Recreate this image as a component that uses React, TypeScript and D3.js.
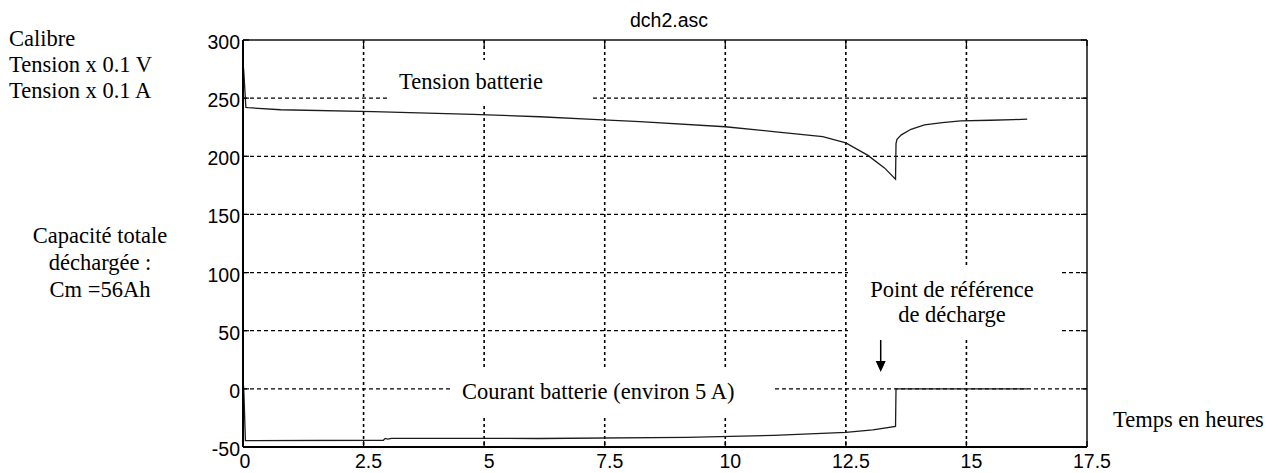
import React from "react";
import * as d3 from "d3";

// Tension batterie (x0.1 V) : [temps h, valeur]
const tensionTime = [0, 0.01, 0.02, 0.06, 0.1, 0.78, 2.7, 4.77, 6.15, 7.25, 8.23, 10.0, 11.0, 12.02, 12.5, 12.82, 12.95, 13.3, 13.53, 13.54, 13.56, 13.65, 13.85, 14.13, 14.5, 14.88, 15.5, 15.98, 16.26];
const tensionValue = [265, 276, 270, 242, 241.8, 240, 238.4, 236.1, 234, 231.8, 229.8, 225.4, 221.2, 216.9, 211.5, 204, 201, 190, 180.3, 211, 214.6, 218.4, 223.2, 227, 229, 230.4, 231, 231.5, 232];

// Courant batterie (x0.1 A)
const courantTime = [0, 0.01, 0.02, 0.05, 2.91, 2.95, 3.0, 3.08, 6.15, 9.2, 11.0, 12.5, 13.06, 13.53, 13.54, 16.26];
const courantValue = [-5, 3, -5, -44.5, -44.2, -42.6, -43.2, -42.5, -42.7, -41.7, -40, -37.4, -35.2, -32.3, 0, 0];

const xTicks = [0, 2.5, 5, 7.5, 10, 12.5, 15, 17.5];
const xTickLabels = ["0", "2.5", "5", "7.5", "10", "12.5", "15", "17.5"];
const yTicks = [-50, 0, 50, 100, 150, 200, 250, 300];
const yTickLabels = ["-50", "0", "50", "100", "150", "200", "250", "300"];

const title = "dch2.asc";

const W = 1284;
const H = 473;
const L = 243, R = 1087, T = 40, B = 447;

export default function App() {
  const x = d3.scaleLinear().domain([0, 17.5]).range([L, R]);
  const y = d3.scaleLinear().domain([-50, 300]).range([B, T]);

  const line = d3
    .line<[number, number]>()
    .x((d) => x(d[0]))
    .y((d) => y(d[1]));

  const tension: [number, number][] = tensionTime.map((t, i) => [t, tensionValue[i]]);
  const courant: [number, number][] = courantTime.map((t, i) => [t, courantValue[i]]);

  const serif = "'Liberation Serif', 'Times New Roman', serif";
  const sans = "'Liberation Sans', Arial, sans-serif";
  const serifSize = 22.5;
  const sansSize = 19.5;

  const arrowX = 880.7;

  return (
    <svg
      width={W}
      height={H}
      style={{ position: "absolute", left: 0, top: 0, background: "#fff" }}
    >
      <rect x={0} y={0} width={W} height={H} fill="#fff" />
      {/* grid */}
      {yTicks
        .filter((v) => v !== -50 && v !== 300)
        .map((v) => (
          <line
            key={"gy" + v}
            x1={L}
            x2={R}
            y1={y(v)}
            y2={y(v)}
            stroke="#000"
            strokeWidth={1.2}
            strokeDasharray="4,3"
          />
        ))}
      {xTicks
        .filter((v) => v !== 0 && v !== 17.5)
        .map((v) => (
          <line
            key={"gx" + v}
            x1={x(v)}
            x2={x(v)}
            y1={T}
            y2={B}
            stroke="#000"
            strokeWidth={1.6}
            strokeDasharray="3,3"
          />
        ))}

      {/* label backgrounds hiding grid */}
      <rect x={390} y={60} width={200} height={46} fill="#fff" />
      <rect x={450} y={370} width={322} height={47} fill="#fff" />
      <rect x={848} y={265} width={212} height={75} fill="#fff" />

      {/* data */}
      <path d={line(tension) || ""} fill="none" stroke="#1e1a1a" strokeWidth={1.3} />
      <path d={line(courant) || ""} fill="none" stroke="#1e1a1a" strokeWidth={1.3} />

      {/* frame */}
      <line x1={L} x2={R} y1={T} y2={T} stroke="#111" strokeWidth={1.5} />
      <line x1={R} x2={R} y1={T} y2={B} stroke="#111" strokeWidth={1.5} />
      <line x1={L} x2={L} y1={T} y2={B} stroke="#000" strokeWidth={2} />
      <line x1={L} x2={R} y1={B} y2={B} stroke="#000" strokeWidth={2} />

      {/* ticks */}
      {xTicks.map((v) => (
        <g key={"tx" + v}>
          <line x1={x(v)} x2={x(v)} y1={B} y2={B - 6} stroke="#000" strokeWidth={1.2} />
          <line x1={x(v)} x2={x(v)} y1={T} y2={T + 6} stroke="#000" strokeWidth={1.2} />
        </g>
      ))}
      {yTicks.map((v) => (
        <g key={"ty" + v}>
          <line x1={L} x2={L + 6} y1={y(v)} y2={y(v)} stroke="#000" strokeWidth={1.2} />
          <line x1={R} x2={R - 6} y1={y(v)} y2={y(v)} stroke="#000" strokeWidth={1.2} />
        </g>
      ))}

      {/* tick labels */}
      {xTicks.map((v, i) => (
        <text
          key={"lx" + v}
          x={x(v) + (v === 0 ? 2 : 5)}
          y={468}
          textAnchor="middle"
          fontFamily={sans}
          fontSize={sansSize}
          fill="#000"
        >
          {xTickLabels[i]}
        </text>
      ))}
      {yTicks.map((v, i) => (
        <text
          key={"ly" + v}
          x={240}
          y={y(v) + 9}
          textAnchor="end"
          fontFamily={sans}
          fontSize={sansSize}
          fill="#000"
        >
          {yTickLabels[i]}
        </text>
      ))}

      {/* title */}
      <text x={669} y={27} textAnchor="middle" fontFamily={sans} fontSize={sansSize} fill="#000">
        {title}
      </text>

      {/* left annotations */}
      <g fontFamily={serif} fontSize={serifSize} fill="#000">
        <text x={9} y={46}>Calibre</text>
        <text x={9} y={72}>Tension x 0.1 V</text>
        <text x={9} y={98}>Tension x 0.1 A</text>
        <text x={100} y={243} textAnchor="middle">Capacité totale</text>
        <text x={100} y={270} textAnchor="middle">déchargée :</text>
        <text x={100} y={297} textAnchor="middle">Cm =56Ah</text>

        <text x={399} y={89}>Tension batterie</text>
        <text x={462} y={399}>Courant batterie (environ 5 A)</text>
        <text x={952} y={297} textAnchor="middle">Point de référence</text>
        <text x={952} y={322} textAnchor="middle">de décharge</text>
        <text x={1113} y={427}>Temps en heures</text>
      </g>

      {/* arrow */}
      <line x1={arrowX} x2={arrowX} y1={340} y2={364} stroke="#000" strokeWidth={1.5} />
      <path
        d={`M${arrowX - 5},361 L${arrowX + 5},361 L${arrowX},372 Z`}
        fill="#000"
      />
    </svg>
  );
}
